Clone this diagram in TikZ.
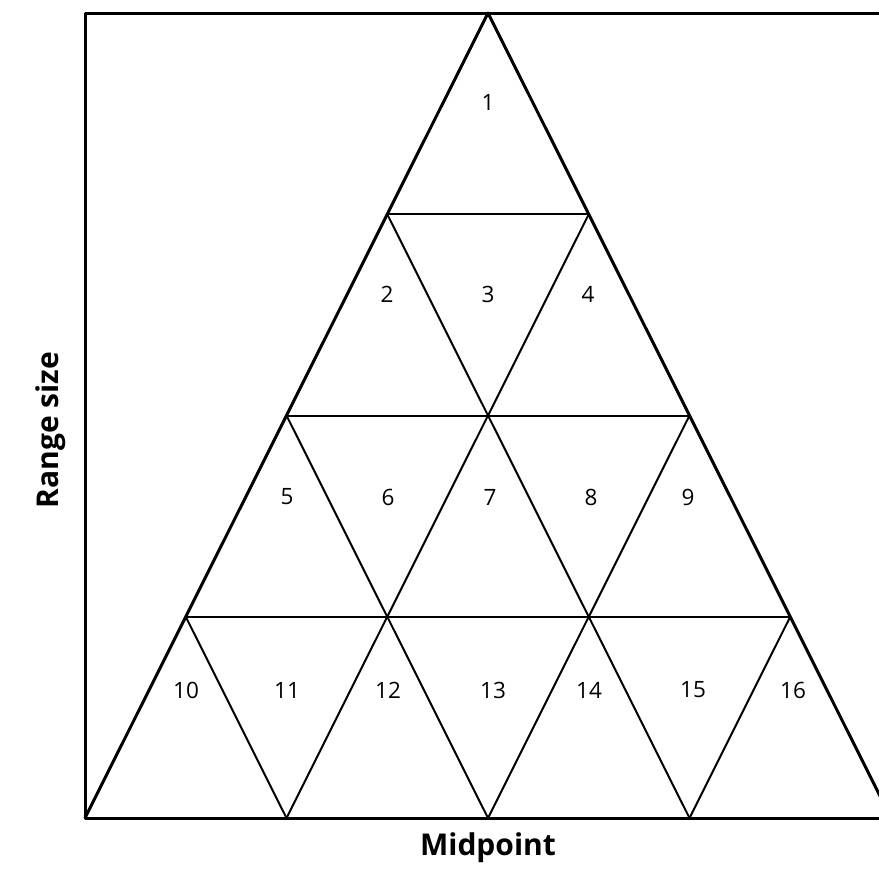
\documentclass[tikz,border=0pt]{standalone}
\usepackage{fontspec}
\setmainfont{Open Sans}
\usetikzlibrary{calc}

\tikzset{
  frame/.style={line width=3pt, line cap=round, line join=round},
  cell/.style={line width=2pt, line cap=round},
  cellnum/.style={font=\fontsize{22.5}{27}\selectfont},
  axislabel/.style={font=\fontsize{30}{36}\selectfont\bfseries}
}

\begin{document}
\begin{tikzpicture}[x=1pt, y=-1pt]
\useasboundingbox (0,0) rectangle (879,871);

% Corners of the triangle
\coordinate (A) at (488,13);
\coordinate (B) at (85,818);
\coordinate (C) at (891,818);

% Frame (open on the right)
\draw[frame] (900,13) -- (85,13) -- (B) -- (900,818);

% Inner grid lines
\foreach \k in {1,2,3} {
  \draw[cell] ($(A)!\k/4!(B)$) -- ($(A)!\k/4!(C)$);
  \draw[cell] ($(B)!\k/4!(C)$) -- ($(B)!\k/4!(A)$);
  \draw[cell] ($(B)!\k/4!(C)$) -- ($(C)!{(4-\k)/4}!(A)$);
}

% Outer triangle
\draw[frame] (B) -- (A) -- (C);

% Cell numbers
\foreach \n/\x/\y in {1/488/102,
    2/387/294, 3/488/294, 4/588/294,
    5/287/497, 6/388/497, 7/490/497, 8/591/497, 9/688/497,
    10/186/690, 11/287/690, 12/388/690, 13/493/690, 14/589/690, 15/693/690, 16/793/690}
  \node[cellnum] (n\n) at (\x,\y) {\n};

% Axis labels
\node[axislabel] (xlab) at (488,848) {Midpoint};
\node[axislabel, rotate=90] (ylab) at (51,430) {Range size};

\end{tikzpicture}
\end{document}
